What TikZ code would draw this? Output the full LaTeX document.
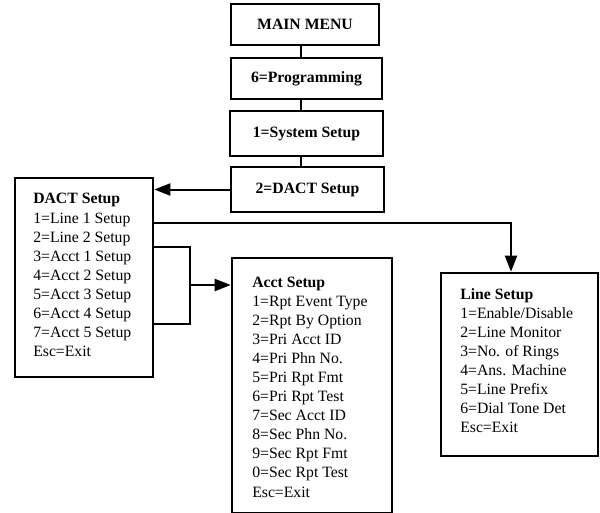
\documentclass[tikz,border=0pt]{standalone}
\usepackage{fontspec}
\setmainfont{Liberation Serif}
\usetikzlibrary{arrows.meta}
\newcommand{\menufont}{\fontsize{11.8pt}{14.3pt}\selectfont}

\begin{document}
\begin{tikzpicture}[x=0.75pt,y=-0.75pt,
    menubox/.style 2 args={draw,line width=1.9pt,minimum width=#1*0.75pt,minimum height=#2*0.75pt,inner sep=0pt,font=\menufont\bfseries},
    menutext/.style={anchor=base west,align=left,inner sep=0pt,font=\menufont},
    link/.style={line width=1.5pt},
    linkto/.style={link,-{Triangle[length=12pt,width=9pt]}}]
  \useasboundingbox (0,0) rectangle (600,512);
  \coordinate (spine) at (301,0);
  \node[menubox={148}{41}] (main) at (305,24.5) {MAIN MENU};
  \node[menubox={151}{41}] (prog) at (306.5,78.5) {6=Programming};
  \node[menubox={153}{45}] (sys) at (306.5,133.5) {1=System Setup};
  \node[menubox={153}{45}] (dactsel) at (307.5,189.5) {2=DACT Setup};
  \draw[link] (main.south -| spine) -- (prog.north -| spine);
  \draw[link] (prog.south -| spine) -- (sys.north -| spine);
  \draw[link] (sys.south -| spine) -- (dactsel.north -| spine);
  \node[menubox={138}{199}] (dact) at (84,277.5) {};
  \node[menutext] (dacttext) at (33,356.5) {\textbf{DACT Setup}\\1=Line 1 Setup\\2=Line 2 Setup\\3=Acct 1 Setup\\4=Acct 2 Setup\\5=Acct 3 Setup\\6=Acct 4 Setup\\7=Acct 5 Setup\\Esc=Exit};
  \node[menubox={160}{255.5}] (acct) at (312,385.75) {};
  \node[menutext] (accttext) at (252,497) {\textbf{Acct Setup}\\1=Rpt Event Type\\2=Rpt By Option\\3=Pri Acct ID\\4=Pri Phn No.\\5=Pri Rpt Fmt\\6=Pri Rpt Test\\7=Sec Acct ID\\8=Sec Phn No.\\9=Sec Rpt Fmt\\0=Sec Rpt Test\\Esc=Exit};
  \node[menubox={157}{183}] (lineset) at (519.5,364.5) {};
  \node[menutext] (linetext) at (460,432.5) {\textbf{Line Setup}\\1=Enable/Disable\\2=Line Monitor\\3=No. of Rings\\4=Ans. Machine\\5=Line Prefix\\6=Dial Tone Det\\Esc=Exit};
  \draw[linkto] (dactsel.west) -- (dactsel.west -| dact.east);
  \coordinate (tap) at (0,223);
  \coordinate (drop) at (511,0);
  \draw[linkto] (dact.east |- tap) -| (lineset.north -| drop);
  \coordinate (brktop) at (190,247);
  \coordinate (brkbot) at (190,324);
  \coordinate (brkmid) at (190,285);
  \draw[link] (dact.east |- brktop) -- (brktop) -- (brkbot) -- (dact.east |- brkbot);
  \draw[linkto] (brkmid) -- (brkmid -| acct.west);
\end{tikzpicture}
\end{document}
